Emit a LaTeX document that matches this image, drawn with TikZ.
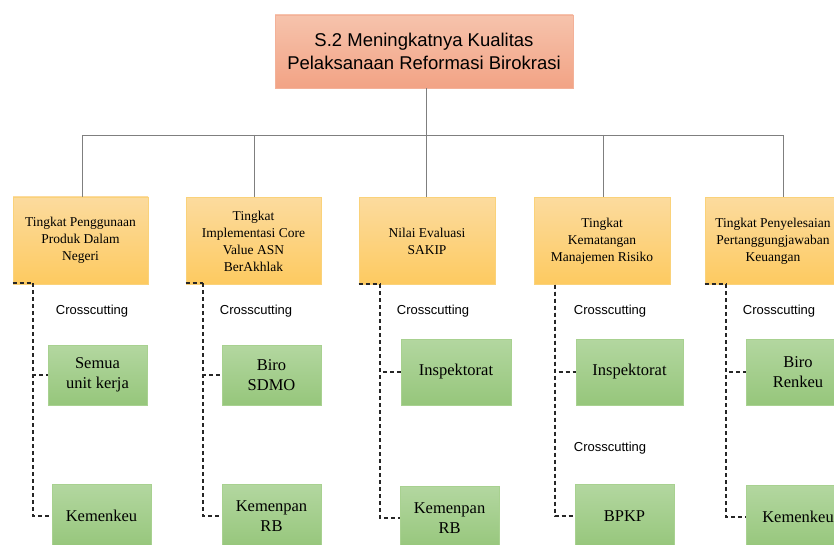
\documentclass[tikz,border=0pt]{standalone}
\usepackage{fontspec}
\setmainfont{Liberation Serif}
\newfontfamily\arialf{Liberation Sans}
\usetikzlibrary{shadings}
\definecolor{otop}{HTML}{FCDB9E}
\definecolor{obot}{HTML}{FDCA60}
\definecolor{odraw}{HTML}{FAD27A}
\definecolor{gtop}{HTML}{B3D7A0}
\definecolor{gbot}{HTML}{96C67B}
\definecolor{gdraw}{HTML}{A8D190}
\definecolor{stop}{HTML}{F6C3AC}
\definecolor{sbot}{HTML}{F2A385}
\definecolor{sdraw}{HTML}{F3B198}
\definecolor{lgray}{HTML}{7F7F7F}
\definecolor{dgray}{HTML}{262626}
\tikzset{
  topbox/.style={draw=sdraw, top color=stop, bottom color=sbot, line width=0.8pt,
    minimum width=298pt, minimum height=73pt, align=center,
    font=\arialf\fontsize{18.5}{23}\selectfont},
  obox/.style={draw=odraw, top color=otop, bottom color=obot, line width=0.8pt,
    minimum height=87pt, align=center, inner sep=2pt,
    font=\fontsize{13.5}{17}\selectfont},
  gbox/.style={draw=gdraw, top color=gtop, bottom color=gbot, line width=0.8pt,
    align=center, inner sep=2pt, font=\fontsize{16.5}{20}\selectfont},
  cclabel/.style={font=\arialf\fontsize{13}{15}\selectfont, inner sep=0pt},
  tree/.style={draw=lgray, line width=0.9pt},
  dline/.style={draw=dgray, line width=1.1pt, dash pattern=on 4pt off 3pt},
}
\begin{document}
\begin{tikzpicture}[x=1pt,y=-1pt]
\useasboundingbox (0,0) rectangle (834,545);
\fill[white] (0,0) rectangle (834,545);

% top box
\node[topbox] (top) at (424,51.5) {S.2 Meningkatnya Kualitas\\Pelaksanaan Reformasi Birokrasi};

% level-2 boxes
\node[obox, minimum width=135pt] (o1) at (80.5,240.5) {Tingkat Penggunaan\\Produk Dalam\\Negeri};
\node[obox, minimum width=135pt] (o2) at (253.5,241) {Tingkat\\Implementasi Core\\Value ASN\\BerAkhlak};
\node[obox, minimum width=136pt] (o3) at (427,241) {Nilai Evaluasi\\SAKIP};
\node[obox, minimum width=136pt] (o4) at (602,241) {Tingkat\\Kematangan\\Manajemen Risiko};
\node[obox, minimum width=136pt] (o5) at (773,241) {Tingkat Penyelesaian\\Pertanggungjawaban\\Keuangan};

% tree connectors
\coordinate (hc) at (426,135);
\coordinate (h1) at (82,135);
\coordinate (h2) at (254,135);
\coordinate (h4) at (603,135);
\coordinate (h5) at (783,135);
\draw[tree] (top.south -| hc) -- (hc |- o3.north);
\draw[tree] (h1 |- o1.north) -- (h1) -- (h5) -- (h5 |- o5.north);
\draw[tree] (h2) -- (h2 |- o2.north);
\draw[tree] (h4) -- (h4 |- o4.north);

% green boxes
\node[gbox, minimum width=99pt, minimum height=60pt] (g1a) at (97.5,375) {Semua\\unit kerja};
\node[gbox, minimum width=99pt, minimum height=64pt] (g1b) at (101.5,516) {Kemenkeu};
\node[gbox, minimum width=99pt, minimum height=60pt] (g2a) at (271.5,375) {Biro\\SDMO};
\node[gbox, minimum width=99pt, minimum height=64pt] (g2b) at (271.5,516) {Kemenpan\\RB};
\node[gbox, minimum width=110pt, minimum height=66pt] (g3a) at (456,372) {Inspektorat};
\node[gbox, minimum width=99pt, minimum height=64pt] (g3b) at (449.5,518) {Kemenpan\\RB};
\node[gbox, minimum width=107pt, minimum height=66pt] (g4a) at (629.5,372) {Inspektorat};
\node[gbox, minimum width=99pt, minimum height=64pt] (g4b) at (624.5,516) {BPKP};
\node[gbox, minimum width=104pt, minimum height=66pt] (g5a) at (798,372) {Biro\\Renkeu};
\node[gbox, minimum width=104pt, minimum height=64pt] (g5b) at (798,517) {Kemenkeu};

% crosscutting labels
\node[cclabel] (c1) at (92,311) {Crosscutting};
\node[cclabel] (c2) at (256,311) {Crosscutting};
\node[cclabel] (c3) at (433,311) {Crosscutting};
\node[cclabel] (c4) at (610,311) {Crosscutting};
\node[cclabel] (c4b) at (610,448) {Crosscutting};
\node[cclabel] (c5) at (779,311) {Crosscutting};

% dashed connectors
\coordinate (v1) at (33,283);
\coordinate (v2) at (203,283);
\coordinate (v3) at (380,284);
\coordinate (v4) at (555,284.5);
\coordinate (v5) at (726,284);
\draw[dline] (o1.south west |- v1) -- (v1);
\draw[dline] (v1) |- (g1b.west);
\draw[dline] (v1) |- (g1a.west);
\draw[dline] (o2.south west |- v2) -- (v2);
\draw[dline] (v2) |- (g2b.west);
\draw[dline] (v2) |- (g2a.west);
\draw[dline] (o3.south west |- v3) -- (v3);
\draw[dline] (v3) |- (g3b.west);
\draw[dline] (v3) |- (g3a.west);
\draw[dline] (v4) |- (g4b.west);
\draw[dline] (v4) |- (g4a.west);
\draw[dline] (o5.south west |- v5) -- (v5);
\draw[dline] (v5) |- (g5b.west);
\draw[dline] (v5) |- (g5a.west);
\end{tikzpicture}
\end{document}
